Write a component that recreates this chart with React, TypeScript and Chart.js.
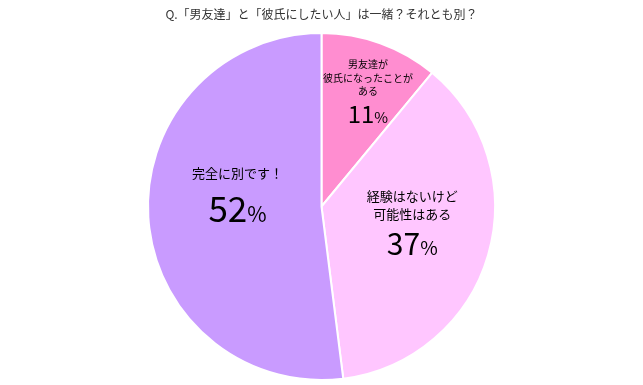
import React, { useEffect, useRef } from "react";
import { Chart, registerables } from "chart.js";

Chart.register(...registerables);

const titleText = "Q.「男友達」と「彼氏にしたい人」は一緒？それとも別？";
const categories = [
  ["男友達が", "彼氏になったことが", "ある"],
  ["経験はないけど", "可能性はある"],
  ["完全に別です！"],
];
const values = [11, 37, 52];
const colors = ["#FF8DD0", "#FFC6FF", "#C99BFF"];

// label styling per slice (not data)
const labelStyle = [
  { frac: 0.72, shift: 2, small: 10, lineH: 13.5, big: 24, pct: 15, gap: 7 },
  { frac: 0.53, shift: -7, small: 13, lineH: 18, big: 30, pct: 19, gap: 9 },
  { frac: 0.49, shift: 12.6, small: 13, lineH: 18, big: 35, pct: 21, gap: 14 },
];

const FONT = '"Noto Sans CJK JP", "Noto Sans", sans-serif';

const labelPlugin = {
  id: "sliceLabels",
  afterDatasetsDraw(chart: any) {
    const ctx = chart.ctx;
    const meta = chart.getDatasetMeta(0);
    ctx.save();
    ctx.fillStyle = "#000";
    ctx.textAlign = "center";
    ctx.textBaseline = "middle";
    meta.data.forEach((arc: any, i: number) => {
      const p = arc.getProps(["x", "y", "startAngle", "endAngle", "outerRadius"], true);
      const st = labelStyle[i];
      const mid = (p.startAngle + p.endAngle) / 2 + (st.shift * Math.PI) / 180;
      const cx = p.x + Math.cos(mid) * p.outerRadius * st.frac;
      const cy = p.y + Math.sin(mid) * p.outerRadius * st.frac;
      const lines = categories[i];
      const blockH = lines.length * st.lineH + st.gap + st.big * 0.75;
      let y = cy - blockH / 2 + st.lineH / 2;
      ctx.font = `${st.small}px ${FONT}`;
      lines.forEach((l) => {
        ctx.fillText(l, cx, y);
        y += st.lineH;
      });
      y += st.gap - st.lineH / 2 + st.big * 0.375;
      const num = String(values[i]);
      ctx.font = `${st.big}px ${FONT}`;
      const nw = ctx.measureText(num).width;
      ctx.font = `${st.pct}px ${FONT}`;
      const pw = ctx.measureText("%").width;
      const x0 = cx - (nw + pw) / 2;
      ctx.textAlign = "left";
      ctx.textBaseline = "alphabetic";
      const base = y + st.big * 0.36;
      ctx.font = `${st.big}px ${FONT}`;
      ctx.fillText(num, x0, base);
      ctx.font = `${st.pct}px ${FONT}`;
      ctx.fillText("%", x0 + nw, base);
      ctx.textAlign = "center";
      ctx.textBaseline = "middle";
    });
    ctx.restore();
  },
};

const titlePlugin = {
  id: "topTitle",
  afterDraw(chart: any) {
    const ctx = chart.ctx;
    ctx.save();
    ctx.font = `12px ${FONT}`;
    ctx.fillStyle = "#333";
    ctx.textAlign = "center";
    ctx.textBaseline = "middle";
    ctx.fillText(titleText, chart.width / 2, 14);
    ctx.restore();
  },
};

export default function App() {
  const ref = useRef<HTMLCanvasElement>(null);
  useEffect(() => {
    if (!ref.current) return;
    const chart = new Chart(ref.current, {
      type: "pie",
      data: {
        labels: categories.map((c) => c.join("")),
        datasets: [
          {
            data: values,
            backgroundColor: colors,
            borderColor: "#ffffff",
            borderWidth: 2,
          },
        ],
      },
      options: {
        animation: false,
        responsive: false,
        layout: { padding: { top: 32, bottom: 4, left: 0, right: 0 } },
        plugins: {
          legend: { display: false },
          tooltip: { enabled: false },
          title: { display: false },
        },
      },
      plugins: [labelPlugin, titlePlugin],
    });
    return () => chart.destroy();
  }, []);
  return (
    <div style={{ position: "fixed", left: 0, top: 0, width: 643, height: 385, background: "#fff" }}>
      <canvas ref={ref} width={643} height={385} style={{ width: 643, height: 385 }} />
    </div>
  );
}
